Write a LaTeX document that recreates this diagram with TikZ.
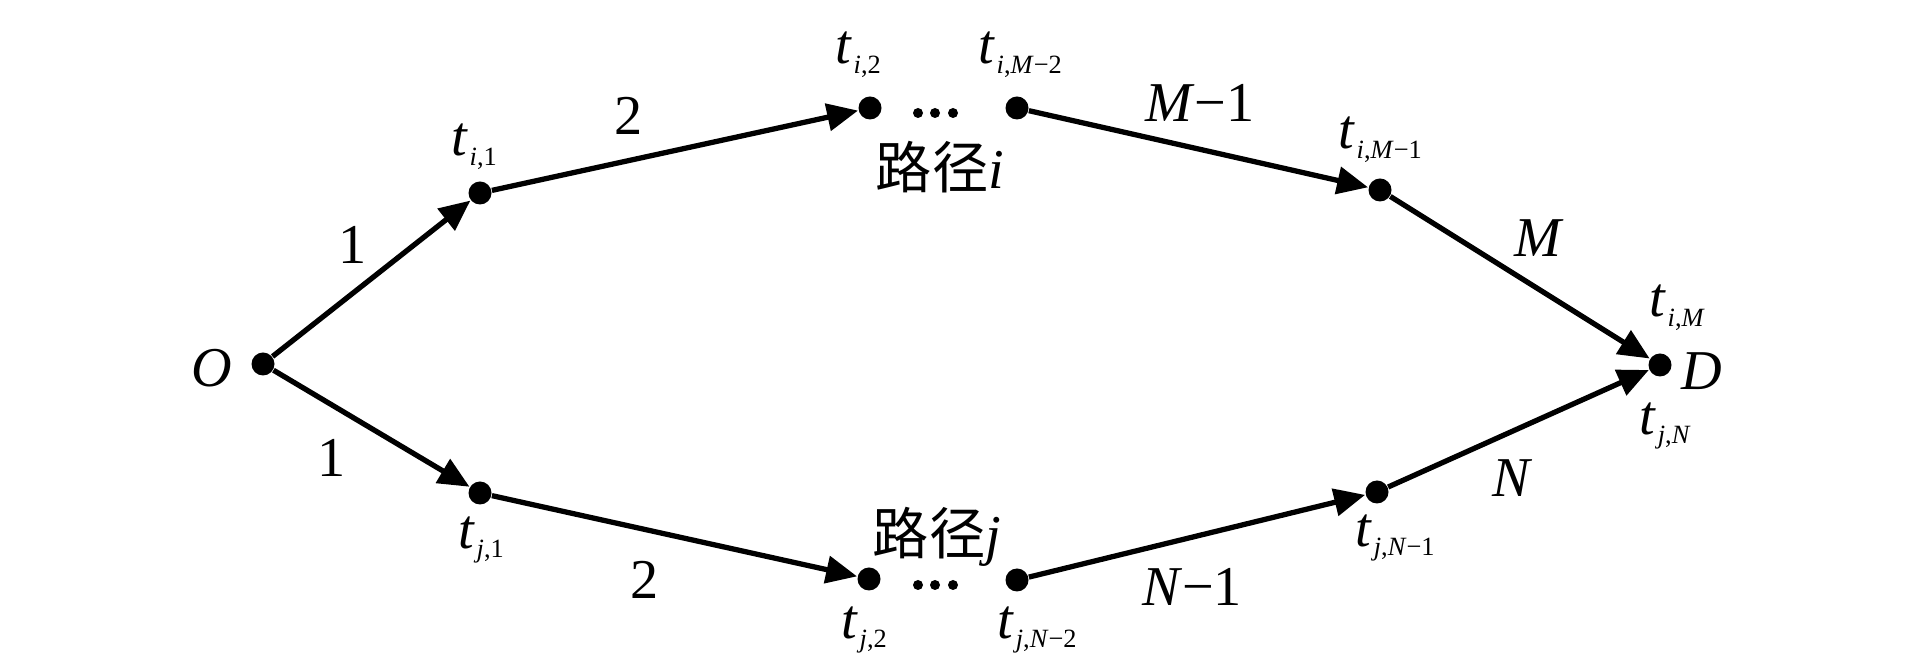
\documentclass[tikz,border=0pt]{standalone}
\usepackage{fontspec}
\setmainfont{Liberation Serif}
\newfontfamily\cjk{Noto Sans CJK SC}
\usetikzlibrary{arrows.meta}
% t with a small lowered index
\newcommand{\tlab}[1]{\textit{t}\kern0.5pt\raisebox{-2.8pt}{\fontsize{7.5}{8}\selectfont #1}}
\begin{document}
\begin{tikzpicture}[
    vtx/.style={circle, fill=black, inner sep=0pt, minimum size=0.23cm},
    road/.style={line width=1.5pt, -{Triangle[length=0.31cm, width=0.27cm]}},
    lab/.style={inner sep=0pt, font=\fontsize{16}{18}\selectfont}
]
    \useasboundingbox (0,0) rectangle (19.13,6.61);

    % Vertices
    \node[vtx] (O) at (2.63, 2.97) {};
    \node[vtx] (ti1) at (4.80, 4.68) {};
    \node[vtx] (ti2) at (8.70, 5.53) {};
    \node[vtx] (tiM2) at (10.17, 5.53) {};
    \node[vtx] (tiM1) at (13.80, 4.71) {};
    \node[vtx] (D) at (16.60, 2.96) {};
    \node[vtx] (tj1) at (4.80, 1.68) {};
    \node[vtx] (tj2) at (8.69, 0.82) {};
    \node[vtx] (tjN2) at (10.17, 0.81) {};
    \node[vtx] (tjN1) at (13.77, 1.69) {};

    % Path i
    \draw[road] (O) -- (ti1);
    \draw[road] (ti1) -- (ti2);
    \draw[road] (tiM2) -- (tiM1);
    \draw[road] (tiM1) -- (D);

    % Path j
    \draw[road] (O) -- (tj1);
    \draw[road] (tj1) -- (tj2);
    \draw[road] (tjN2) -- (tjN1);
    \draw[road] (tjN1) -- (D);

    % Gaps between t_2 and t_{-2}
    \foreach \x in {9.18,9.35,9.53} {
        \fill (\x, 5.48) circle (0.05);
        \fill (\x, 0.76) circle (0.05);
    }

    % Vertex labels
    \node[lab] (lO) at (2.12, 2.93) {\textit{O}};
    \node[lab] (lD) at (17.02, 2.90) {\textit{D}};
    \node[lab] (lti1) at (4.74, 5.14) {\tlab{\textit{i},1}};
    \node[lab] (lti2) at (8.58, 6.06) {\tlab{\textit{i},2}};
    \node[lab] (ltiM2) at (10.20, 6.06) {\tlab{\textit{i},\textit{M}−2}};
    \node[lab] (ltiM1) at (13.80, 5.21) {\tlab{\textit{i},\textit{M}−1}};
    \node[lab] (ltiM) at (16.77, 3.53) {\tlab{\textit{i},\textit{M}}};
    \node[lab] (ltjN) at (16.65, 2.35) {\tlab{\textit{j},\textit{N}}};
    \node[lab] (ltj1) at (4.81, 1.21) {\tlab{\textit{j},1}};
    \node[lab] (ltj2) at (8.64, 0.31) {\tlab{\textit{j},2}};
    \node[lab] (ltjN2) at (10.37, 0.31) {\tlab{\textit{j},\textit{N}−2}};
    \node[lab] (ltjN1) at (13.95, 1.23) {\tlab{\textit{j},\textit{N}−1}};

    % Path names
    \node[lab] (pi) at (9.40, 4.94) {{\cjk 路径}\textit{i}};
    \node[lab] (pj) at (9.37, 1.24) {{\cjk 路径}\textit{j}};

    % Edge labels
    \node[lab] (e1i) at (3.53, 4.16) {1};
    \node[lab] (e2i) at (6.29, 5.45) {2};
    \node[lab] (eMi1) at (12.00, 5.58) {\textit{M}−1};
    \node[lab] (eMi) at (15.39, 4.23) {\textit{M}};
    \node[lab] (e1j) at (3.32, 2.03) {1};
    \node[lab] (e2j) at (6.45, 0.81) {2};
    \node[lab] (eNj1) at (11.92, 0.74) {\textit{N}−1};
    \node[lab] (eNj) at (15.13, 1.83) {\textit{N}};
\end{tikzpicture}
\end{document}
